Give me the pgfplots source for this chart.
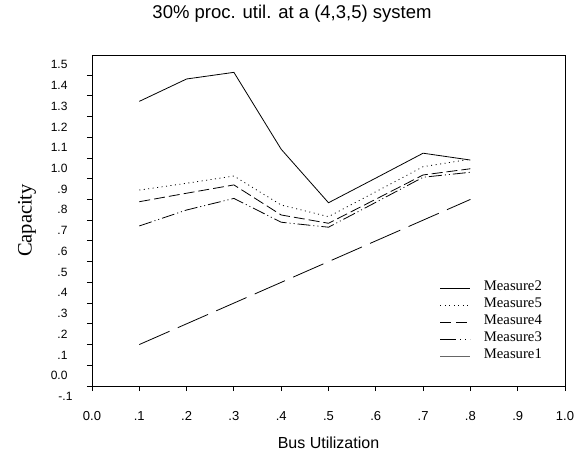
\documentclass[border=0pt]{standalone}
\usepackage{fontspec}
\setmainfont{Liberation Sans}
\newfontfamily\seriffont{Liberation Serif}
\usepackage{pgfplots}
\pgfplotsset{compat=1.18}
\begin{document}
\begin{tikzpicture}[x=1pt,y=1pt]
\path[use as bounding box] (-92,-70) rectangle (492,386);
\begin{axis}[
  at={(0,0)}, anchor=south west,
  scale only axis, width=473pt, height=331pt,
  xmin=0, xmax=1, ymin=0, ymax=1.5967,
  xtick={0,0.1,0.2,0.3,0.4,0.5,0.6,0.7,0.8,0.9,1.0},
  xticklabels={0.0,.1,.2,.3,.4,.5,.6,.7,.8,.9,1.0},
  ytick={0,0.1,0.2,0.3,0.4,0.5,0.6,0.7,0.8,0.9,1.0,1.1,1.2,1.3,1.4,1.5},
  yticklabels={0.0,.1,.2,.3,.4,.5,.6,.7,.8,.9,1.0,1.1,1.2,1.3,1.4,1.5},
  extra y ticks={0},
  extra y tick labels={-.1},
  extra y tick style={major tick length=0pt, yticklabel style={yshift=-20.8pt}},
  tick align=outside, xtick pos=bottom, ytick pos=left,
  major tick length=5pt,
  tick style={black, line width=0.8pt},
  axis line style={black, line width=0.8pt},
  xticklabel style={font=\fontsize{13}{15}\selectfont, anchor=center, yshift=-25pt},
  yticklabel style={font=\fontsize{12}{14}\selectfont, anchor=east, xshift=-16pt, yshift=10.4pt},
  xlabel={Bus Utilization},
  xlabel style={at={(axis description cs:0.5,-0.1722)}, anchor=center, font=\fontsize{16}{19}\selectfont},
  ylabel={Capacity},
  ylabel style={at={(axis description cs:-0.1374,0.5)}, anchor=center, rotate=0, font=\seriffont\fontsize{20.5}{24}\selectfont},
  title={30\% proc. util. at a (4,3,5) system},
  title style={at={(axis description cs:0.4228,1.1057)}, anchor=center, font=\fontsize{18.5}{22}\selectfont},
  legend style={draw=none, fill=none, at={(axis description cs:0.7357,0.3218)}, anchor=north west,
    inner sep=0pt, outer sep=0pt, column sep=13pt, row sep=0pt,
    font=\seriffont\fontsize{14.7}{17}\selectfont,
    nodes={inner sep=0pt, outer sep=0pt, text height=10.6pt, text depth=6.5pt}},
  legend cell align=left,
  legend image code/.code={\draw[#1] (0pt,0pt) -- (30pt,0pt);},
  every axis plot/.append style={black, line width=0.8pt},
]
% Measure2
\addplot[solid, forget plot] coordinates {(0.1,1.373) (0.2,1.481) (0.3,1.513) (0.4,1.142) (0.5,0.884) (0.6,1.003) (0.7,1.123) (0.8,1.090)};
% Measure5
\addplot[dash pattern=on 1pt off 3.5pt, forget plot] coordinates {(0.1,0.945) (0.2,0.978) (0.3,1.013) (0.4,0.873) (0.5,0.817) (0.6,0.937) (0.7,1.058) (0.8,1.094)};
% Measure4
\addplot[dash pattern=on 11pt off 4pt, forget plot] coordinates {(0.1,0.889) (0.2,0.930) (0.3,0.970) (0.4,0.825) (0.5,0.785) (0.6,0.901) (0.7,1.018) (0.8,1.048)};
% Measure3
\addplot[dash pattern=on 13pt off 3pt on 1pt off 3pt on 1pt off 3pt, forget plot] coordinates {(0.1,0.772) (0.2,0.849) (0.3,0.905) (0.4,0.790) (0.5,0.766) (0.6,0.886) (0.7,1.007) (0.8,1.031)};
% Measure1
\addplot[dash pattern=on 33pt off 9pt, forget plot] coordinates {(0.1,0.2) (0.2,0.3) (0.3,0.4) (0.4,0.5) (0.5,0.6) (0.6,0.7) (0.7,0.8) (0.8,0.9)};
\addlegendimage{black, line width=0.8pt, solid}
\addlegendentry{Measure2}
\addlegendimage{black, line width=0.8pt, dash pattern=on 1pt off 3.5pt}
\addlegendentry{Measure5}
\addlegendimage{black, line width=0.8pt, dash pattern=on 11pt off 5pt}
\addlegendentry{Measure4}
\addlegendimage{black, line width=0.8pt, dash pattern=on 16pt off 4pt on 1pt off 4pt on 1pt off 4pt}
\addlegendentry{Measure3}
\addlegendimage{black!60, line width=0.9pt, solid}
\addlegendentry{Measure1}
\end{axis}
\end{tikzpicture}
\end{document}
